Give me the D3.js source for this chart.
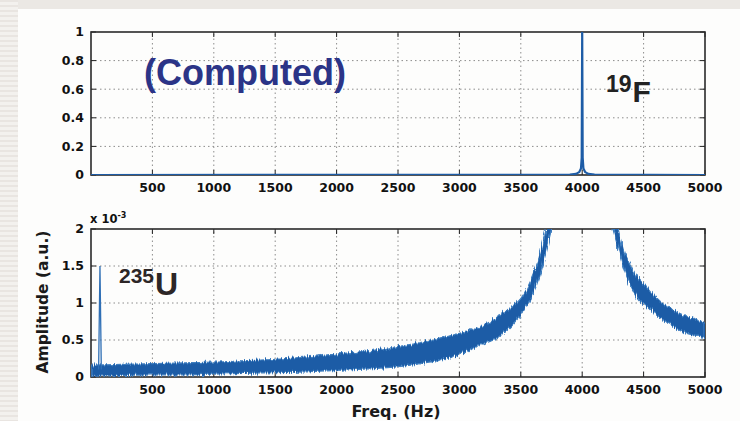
<!DOCTYPE html>
<html>
<head>
<meta charset="utf-8">
<script src="https://cdn.jsdelivr.net/npm/d3@7"></script>
<style>
  html, body { margin: 0; padding: 0; }
  body {
    width: 740px; height: 421px; overflow: hidden; position: relative;
    background: #fdfdfc;
  }
  .strip-top { position: absolute; left: 0; top: 0; width: 740px; height: 9px; background: #ebe8e4; }
  .strip-left {
    position: absolute; left: 0; top: 0; width: 18px; height: 421px;
    background: repeating-linear-gradient(180deg, #e9e5e1 0px, #e9e5e1 2px, #f3f1ee 2px, #f3f1ee 5px);
  }
  svg { position: absolute; left: 0; top: 0; }
  .tick-lbl { font-family: "DejaVu Sans", sans-serif; font-weight: bold; font-size: 12.5px; fill: #111; }
</style>
</head>
<body>
<div class="strip-top"></div>
<div class="strip-left"></div>
<svg id="chart" width="740" height="421"></svg>
<script>
// x ticks shared by both panels
const xTicks = [500, 1000, 1500, 2000, 2500, 3000, 3500, 4000, 4500, 5000];
const topYTicks = [0, 0.2, 0.4, 0.6, 0.8, 1];
const topYLabels = ['0', '0.2', '0.4', '0.6', '0.8', '1'];
const botYTicks = [0, 0.5, 1, 1.5, 2];
const botYLabels = ['0', '0.5', '1', '1.5', '2'];

// 19F computed spectrum (normalised amplitude)
const fFreq = [0, 3900, 3950, 3975, 3990, 3996, 4000, 4004, 4010, 4025, 4050, 4100, 5000];
const fAmp  = [0, 0.002, 0.008, 0.02, 0.045, 0.12, 1.0, 0.12, 0.045, 0.02, 0.008, 0.002, 0];

// 235U noisy response, envelope of the band (x 1e-3), low side of the resonance
const uLowFreq  = [0, 250, 500, 750, 1000, 1250, 1500, 1750, 2000, 2250, 2500, 2750, 3000, 3100, 3200, 3300, 3400, 3500, 3600, 3650, 3700, 3750, 3800];
const uLowUpper = [0.16, 0.17, 0.18, 0.19, 0.20, 0.22, 0.24, 0.27, 0.31, 0.35, 0.41, 0.49, 0.59, 0.64, 0.70, 0.80, 0.92, 1.06, 1.38, 1.62, 1.95, 2.30, 2.60];
const uLowLower = [0.01, 0.02, 0.03, 0.03, 0.04, 0.05, 0.06, 0.07, 0.09, 0.11, 0.14, 0.20, 0.30, 0.38, 0.45, 0.52, 0.66, 0.84, 1.12, 1.35, 1.65, 2.00, 2.30];
// high side of the resonance
const uHighFreq  = [4250, 4300, 4335, 4400, 4446, 4527, 4600, 4690, 4760, 4853, 4930, 5000];
const uHighUpper = [2.30, 1.95, 1.72, 1.48, 1.35, 1.22, 1.08, 0.95, 0.88, 0.81, 0.77, 0.74];
const uHighLower = [2.00, 1.70, 1.49, 1.22, 1.08, 0.95, 0.84, 0.73, 0.66, 0.59, 0.56, 0.53];
// narrow line near the origin
const uSpikeFreq = [62, 73, 84];
const uSpikeAmp  = [0.1, 1.5, 0.1];

const BLUE = '#1d5ca6';
const svg = d3.select('#chart');

const defs = svg.append('defs');
const noise = defs.append('filter').attr('id', 'jag')
  .attr('x', '-5%').attr('y', '-20%').attr('width', '110%').attr('height', '140%');
noise.append('feTurbulence')
  .attr('type', 'fractalNoise').attr('baseFrequency', '0.9 0.03')
  .attr('numOctaves', 2).attr('seed', 3).attr('result', 'n');
noise.append('feDisplacementMap')
  .attr('in', 'SourceGraphic').attr('in2', 'n')
  .attr('scale', 7).attr('xChannelSelector', 'R').attr('yChannelSelector', 'G');

const x = d3.scaleLinear().domain([0, 5000]).range([91, 705]);
const yTop = d3.scaleLinear().domain([0, 1]).range([175, 32]);
const yBot = d3.scaleLinear().domain([0, 2]).range([377, 229]);

function drawPanel(y, yTicks, yLabels, clipId) {
  const [y0, y1] = y.range();
  const [x0, x1] = x.range();
  const g = svg.append('g');

  defs.append('clipPath').attr('id', clipId)
    .append('rect').attr('x', x0).attr('y', y1).attr('width', x1 - x0).attr('height', y0 - y1);

  // dotted grid
  g.selectAll('.vgrid').data(xTicks.slice(0, -1)).join('line')
    .attr('x1', d => x(d)).attr('x2', d => x(d))
    .attr('y1', y0).attr('y2', y1)
    .attr('stroke', '#8c8c8c').attr('stroke-width', 1).attr('stroke-dasharray', '1.5,3');
  g.selectAll('.hgrid').data(yTicks.slice(1, -1)).join('line')
    .attr('x1', x0).attr('x2', x1)
    .attr('y1', d => y(d)).attr('y2', d => y(d))
    .attr('stroke', '#8c8c8c').attr('stroke-width', 1).attr('stroke-dasharray', '1.5,3');

  // inward ticks on all sides
  g.selectAll('.tb').data(xTicks).join('line')
    .attr('x1', d => x(d)).attr('x2', d => x(d)).attr('y1', y0).attr('y2', y0 - 5)
    .attr('stroke', '#222');
  g.selectAll('.tt').data(xTicks).join('line')
    .attr('x1', d => x(d)).attr('x2', d => x(d)).attr('y1', y1).attr('y2', y1 + 5)
    .attr('stroke', '#222');
  g.selectAll('.tl').data(yTicks).join('line')
    .attr('x1', x0).attr('x2', x0 + 5).attr('y1', d => y(d)).attr('y2', d => y(d))
    .attr('stroke', '#222');
  g.selectAll('.tr').data(yTicks).join('line')
    .attr('x1', x1).attr('x2', x1 - 5).attr('y1', d => y(d)).attr('y2', d => y(d))
    .attr('stroke', '#222');

  g.append('rect')
    .attr('x', x0).attr('y', y1).attr('width', x1 - x0).attr('height', y0 - y1)
    .attr('fill', 'none').attr('stroke', '#2a2a2a').attr('stroke-width', 1.6);

  // tick labels
  g.selectAll('.xl').data(xTicks).join('text')
    .attr('class', 'tick-lbl')
    .attr('x', d => x(d)).attr('y', y0 + 17)
    .attr('text-anchor', 'middle')
    .text(d => d);
  g.selectAll('.yl').data(yTicks).join('text')
    .attr('class', 'tick-lbl')
    .attr('x', x0 - 7).attr('y', d => y(d)).attr('dy', '0.35em')
    .attr('text-anchor', 'end')
    .text((d, i) => yLabels[i]);

  return g;
}

// ---- top panel: 19F
drawPanel(yTop, topYTicks, topYLabels, 'clipTop');

const fLine = d3.line().x(d => x(d[0])).y(d => yTop(d[1]));
svg.append('g').attr('clip-path', 'url(#clipTop)')
  .append('path')
  .attr('d', fLine(fFreq.map((f, i) => [f, fAmp[i]])))
  .attr('fill', 'none').attr('stroke', BLUE).attr('stroke-width', 2.2)
  .attr('stroke-linejoin', 'round');

svg.append('text')
  .attr('x', 144).attr('y', 85)
  .attr('font-family', '"Liberation Sans", Arial, sans-serif')
  .attr('font-weight', 'bold').attr('font-size', 36)
  .attr('fill', '#2b3487')
  .text('(Computed)');

const fLbl = svg.append('text')
  .attr('x', 606).attr('y', 102)
  .attr('font-family', '"Liberation Sans", Arial, sans-serif')
  .attr('font-weight', 'bold').attr('fill', '#222');
fLbl.append('tspan').attr('font-size', 23).attr('dy', -10).text('19');
fLbl.append('tspan').attr('font-size', 30).attr('dy', 10).attr('dx', 1).text('F');

// ---- bottom panel: 235U
drawPanel(yBot, botYTicks, botYLabels, 'clipBot');

const band = d3.area()
  .x(d => x(d.f))
  .y0(d => yBot(d.lo))
  .y1(d => yBot(d.hi))
  .curve(d3.curveMonotoneX);

const lowSide = uLowFreq.map((f, i) => ({ f, lo: uLowLower[i], hi: uLowUpper[i] }));
const highSide = uHighFreq.map((f, i) => ({ f, lo: uHighLower[i], hi: uHighUpper[i] }));

const bandG = svg.append('g').attr('clip-path', 'url(#clipBot)')
  .append('g').attr('filter', 'url(#jag)');
[lowSide, highSide].forEach(s => {
  bandG.append('path')
    .attr('d', band(s))
    .attr('fill', BLUE)
    .attr('stroke', '#3f7fc0').attr('stroke-width', 1.2);
});

svg.append('g').attr('clip-path', 'url(#clipBot)')
  .append('path')
  .attr('d', d3.line().x(d => x(d[0])).y(d => yBot(d[1]))(uSpikeFreq.map((f, i) => [f, uSpikeAmp[i]])))
  .attr('fill', 'none').attr('stroke', '#2f6fb5').attr('stroke-width', 1.3);

// exponent label
const exp = svg.append('text')
  .attr('x', 90).attr('y', 223)
  .attr('font-family', '"DejaVu Sans", sans-serif')
  .attr('font-weight', 'bold').attr('font-size', 11.5).attr('fill', '#111');
exp.append('tspan').text('x 10');
exp.append('tspan').attr('font-size', 8).attr('dy', -5).text('-3');

const uLbl = svg.append('text')
  .attr('x', 119).attr('y', 295)
  .attr('font-family', '"Liberation Sans", Arial, sans-serif')
  .attr('font-weight', 'bold').attr('fill', '#2c2626');
uLbl.append('tspan').attr('font-size', 21).attr('dy', -12).text('235');
uLbl.append('tspan').attr('font-size', 32).attr('dy', 12).attr('dx', 1).text('U');

// axis titles
svg.append('text')
  .attr('x', 396).attr('y', 417)
  .attr('text-anchor', 'middle')
  .attr('font-family', '"DejaVu Sans", sans-serif')
  .attr('font-weight', 'bold').attr('font-size', 16).attr('fill', '#1a1a1a')
  .text('Freq. (Hz)');

svg.append('text')
  .attr('transform', 'translate(48,302) rotate(-90)')
  .attr('text-anchor', 'middle')
  .attr('font-family', '"DejaVu Sans", sans-serif')
  .attr('font-weight', 'bold').attr('font-size', 15.5).attr('fill', '#1a1a1a')
  .text('Amplitude (a.u.)');
</script>
</body>
</html>
